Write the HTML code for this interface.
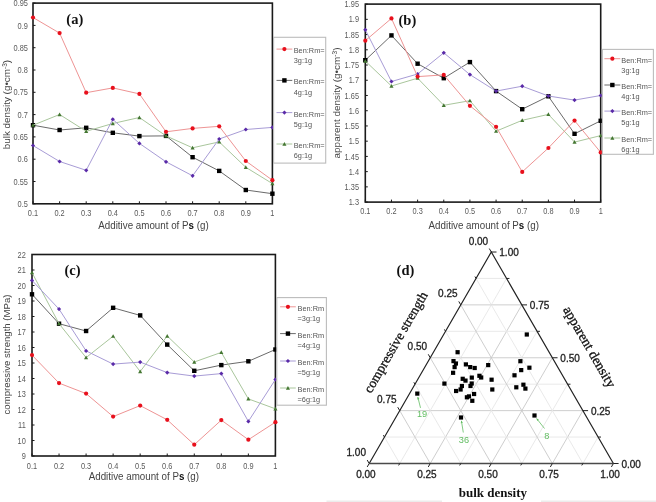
<!DOCTYPE html><html><head><meta charset="utf-8"><style>html,body{margin:0;padding:0;background:#fff;}svg{display:block;filter:blur(0.4px);}</style></head><body><svg width="656" height="502" viewBox="0 0 656 502">
<rect width="656" height="502" fill="#fff"/>
<rect x="33.00" y="3.10" width="239.40" height="200.70" fill="none" stroke="#1a1a1a" stroke-width="1.6"/>
<line x1="33.00" y1="203.80" x2="33.00" y2="201.30" stroke="#1a1a1a" stroke-width="1"/>
<line x1="59.60" y1="203.80" x2="59.60" y2="201.30" stroke="#1a1a1a" stroke-width="1"/>
<line x1="86.20" y1="203.80" x2="86.20" y2="201.30" stroke="#1a1a1a" stroke-width="1"/>
<line x1="112.80" y1="203.80" x2="112.80" y2="201.30" stroke="#1a1a1a" stroke-width="1"/>
<line x1="139.40" y1="203.80" x2="139.40" y2="201.30" stroke="#1a1a1a" stroke-width="1"/>
<line x1="166.00" y1="203.80" x2="166.00" y2="201.30" stroke="#1a1a1a" stroke-width="1"/>
<line x1="192.60" y1="203.80" x2="192.60" y2="201.30" stroke="#1a1a1a" stroke-width="1"/>
<line x1="219.20" y1="203.80" x2="219.20" y2="201.30" stroke="#1a1a1a" stroke-width="1"/>
<line x1="245.80" y1="203.80" x2="245.80" y2="201.30" stroke="#1a1a1a" stroke-width="1"/>
<line x1="272.40" y1="203.80" x2="272.40" y2="201.30" stroke="#1a1a1a" stroke-width="1"/>
<line x1="33.00" y1="3.10" x2="35.50" y2="3.10" stroke="#1a1a1a" stroke-width="1"/>
<line x1="33.00" y1="25.40" x2="35.50" y2="25.40" stroke="#1a1a1a" stroke-width="1"/>
<line x1="33.00" y1="47.70" x2="35.50" y2="47.70" stroke="#1a1a1a" stroke-width="1"/>
<line x1="33.00" y1="70.00" x2="35.50" y2="70.00" stroke="#1a1a1a" stroke-width="1"/>
<line x1="33.00" y1="92.30" x2="35.50" y2="92.30" stroke="#1a1a1a" stroke-width="1"/>
<line x1="33.00" y1="114.60" x2="35.50" y2="114.60" stroke="#1a1a1a" stroke-width="1"/>
<line x1="33.00" y1="136.90" x2="35.50" y2="136.90" stroke="#1a1a1a" stroke-width="1"/>
<line x1="33.00" y1="159.20" x2="35.50" y2="159.20" stroke="#1a1a1a" stroke-width="1"/>
<line x1="33.00" y1="181.50" x2="35.50" y2="181.50" stroke="#1a1a1a" stroke-width="1"/>
<line x1="33.00" y1="203.80" x2="35.50" y2="203.80" stroke="#1a1a1a" stroke-width="1"/>
<text transform="translate(33.00,216.00) scale(0.88,1)" font-family='"Liberation Sans", sans-serif' font-size="8.4" fill="#5a5a5a" text-anchor="middle" font-weight="normal">0.1</text>
<text transform="translate(59.60,216.00) scale(0.88,1)" font-family='"Liberation Sans", sans-serif' font-size="8.4" fill="#5a5a5a" text-anchor="middle" font-weight="normal">0.2</text>
<text transform="translate(86.20,216.00) scale(0.88,1)" font-family='"Liberation Sans", sans-serif' font-size="8.4" fill="#5a5a5a" text-anchor="middle" font-weight="normal">0.3</text>
<text transform="translate(112.80,216.00) scale(0.88,1)" font-family='"Liberation Sans", sans-serif' font-size="8.4" fill="#5a5a5a" text-anchor="middle" font-weight="normal">0.4</text>
<text transform="translate(139.40,216.00) scale(0.88,1)" font-family='"Liberation Sans", sans-serif' font-size="8.4" fill="#5a5a5a" text-anchor="middle" font-weight="normal">0.5</text>
<text transform="translate(166.00,216.00) scale(0.88,1)" font-family='"Liberation Sans", sans-serif' font-size="8.4" fill="#5a5a5a" text-anchor="middle" font-weight="normal">0.6</text>
<text transform="translate(192.60,216.00) scale(0.88,1)" font-family='"Liberation Sans", sans-serif' font-size="8.4" fill="#5a5a5a" text-anchor="middle" font-weight="normal">0.7</text>
<text transform="translate(219.20,216.00) scale(0.88,1)" font-family='"Liberation Sans", sans-serif' font-size="8.4" fill="#5a5a5a" text-anchor="middle" font-weight="normal">0.8</text>
<text transform="translate(245.80,216.00) scale(0.88,1)" font-family='"Liberation Sans", sans-serif' font-size="8.4" fill="#5a5a5a" text-anchor="middle" font-weight="normal">0.9</text>
<text transform="translate(272.40,216.00) scale(0.88,1)" font-family='"Liberation Sans", sans-serif' font-size="8.4" fill="#5a5a5a" text-anchor="middle" font-weight="normal">1</text>
<text transform="translate(27.90,6.20) scale(0.88,1)" font-family='"Liberation Sans", sans-serif' font-size="8.4" fill="#5a5a5a" text-anchor="end" font-weight="normal">0.95</text>
<text transform="translate(27.90,28.50) scale(0.88,1)" font-family='"Liberation Sans", sans-serif' font-size="8.4" fill="#5a5a5a" text-anchor="end" font-weight="normal">0.9</text>
<text transform="translate(27.90,50.80) scale(0.88,1)" font-family='"Liberation Sans", sans-serif' font-size="8.4" fill="#5a5a5a" text-anchor="end" font-weight="normal">0.85</text>
<text transform="translate(27.90,73.10) scale(0.88,1)" font-family='"Liberation Sans", sans-serif' font-size="8.4" fill="#5a5a5a" text-anchor="end" font-weight="normal">0.8</text>
<text transform="translate(27.90,95.40) scale(0.88,1)" font-family='"Liberation Sans", sans-serif' font-size="8.4" fill="#5a5a5a" text-anchor="end" font-weight="normal">0.75</text>
<text transform="translate(27.90,117.70) scale(0.88,1)" font-family='"Liberation Sans", sans-serif' font-size="8.4" fill="#5a5a5a" text-anchor="end" font-weight="normal">0.7</text>
<text transform="translate(27.90,140.00) scale(0.88,1)" font-family='"Liberation Sans", sans-serif' font-size="8.4" fill="#5a5a5a" text-anchor="end" font-weight="normal">0.65</text>
<text transform="translate(27.90,162.30) scale(0.88,1)" font-family='"Liberation Sans", sans-serif' font-size="8.4" fill="#5a5a5a" text-anchor="end" font-weight="normal">0.6</text>
<text transform="translate(27.90,184.60) scale(0.88,1)" font-family='"Liberation Sans", sans-serif' font-size="8.4" fill="#5a5a5a" text-anchor="end" font-weight="normal">0.55</text>
<text transform="translate(27.90,206.90) scale(0.88,1)" font-family='"Liberation Sans", sans-serif' font-size="8.4" fill="#5a5a5a" text-anchor="end" font-weight="normal">0.5</text>
<polyline points="33.00,125.20 59.60,130.00 86.20,127.80 112.80,132.80 139.40,136.10 166.00,135.90 192.60,157.20 219.20,170.90 245.80,190.00 272.40,193.70" fill="none" stroke="#6a6a6a" stroke-width="1"/>
<rect x="30.80" y="123.00" width="4.40" height="4.40" fill="#000000"/>
<rect x="57.40" y="127.80" width="4.40" height="4.40" fill="#000000"/>
<rect x="84.00" y="125.60" width="4.40" height="4.40" fill="#000000"/>
<rect x="110.60" y="130.60" width="4.40" height="4.40" fill="#000000"/>
<rect x="137.20" y="133.90" width="4.40" height="4.40" fill="#000000"/>
<rect x="163.80" y="133.70" width="4.40" height="4.40" fill="#000000"/>
<rect x="190.40" y="155.00" width="4.40" height="4.40" fill="#000000"/>
<rect x="217.00" y="168.70" width="4.40" height="4.40" fill="#000000"/>
<rect x="243.60" y="187.80" width="4.40" height="4.40" fill="#000000"/>
<rect x="270.20" y="191.50" width="4.40" height="4.40" fill="#000000"/>
<polyline points="33.00,125.20 59.60,114.50 86.20,131.30 112.80,123.50 139.40,117.50 166.00,135.90 192.60,147.80 219.20,141.90 245.80,167.30 272.40,183.60" fill="none" stroke="#a9c69c" stroke-width="1"/>
<path d="M33.00 123.15L35.05 126.84L30.95 126.84Z" fill="#437631"/>
<path d="M59.60 112.45L61.65 116.14L57.55 116.14Z" fill="#437631"/>
<path d="M86.20 129.25L88.25 132.94L84.15 132.94Z" fill="#437631"/>
<path d="M112.80 121.45L114.85 125.14L110.75 125.14Z" fill="#437631"/>
<path d="M139.40 115.45L141.45 119.14L137.35 119.14Z" fill="#437631"/>
<path d="M166.00 133.85L168.05 137.54L163.95 137.54Z" fill="#437631"/>
<path d="M192.60 145.75L194.65 149.44L190.55 149.44Z" fill="#437631"/>
<path d="M219.20 139.85L221.25 143.54L217.15 143.54Z" fill="#437631"/>
<path d="M245.80 165.25L247.85 168.94L243.75 168.94Z" fill="#437631"/>
<path d="M272.40 181.55L274.45 185.24L270.35 185.24Z" fill="#437631"/>
<polyline points="33.00,145.50 59.60,161.50 86.20,170.30 112.80,119.30 139.40,143.40 166.00,161.80 192.60,175.80 219.20,139.00 245.80,129.50 272.40,127.40" fill="none" stroke="#a89cd6" stroke-width="1"/>
<path d="M33.00 143.40L35.10 145.50L33.00 147.60L30.90 145.50Z" fill="#5a2aa8"/>
<path d="M59.60 159.40L61.70 161.50L59.60 163.60L57.50 161.50Z" fill="#5a2aa8"/>
<path d="M86.20 168.20L88.30 170.30L86.20 172.40L84.10 170.30Z" fill="#5a2aa8"/>
<path d="M112.80 117.20L114.90 119.30L112.80 121.40L110.70 119.30Z" fill="#5a2aa8"/>
<path d="M139.40 141.30L141.50 143.40L139.40 145.50L137.30 143.40Z" fill="#5a2aa8"/>
<path d="M166.00 159.70L168.10 161.80L166.00 163.90L163.90 161.80Z" fill="#5a2aa8"/>
<path d="M192.60 173.70L194.70 175.80L192.60 177.90L190.50 175.80Z" fill="#5a2aa8"/>
<path d="M219.20 136.90L221.30 139.00L219.20 141.10L217.10 139.00Z" fill="#5a2aa8"/>
<path d="M245.80 127.40L247.90 129.50L245.80 131.60L243.70 129.50Z" fill="#5a2aa8"/>
<path d="M272.40 125.30L274.50 127.40L272.40 129.50L270.30 127.40Z" fill="#5a2aa8"/>
<polyline points="33.00,17.50 59.60,33.10 86.20,92.70 112.80,87.90 139.40,93.90 166.00,131.80 192.60,128.40 219.20,126.30 245.80,161.00 272.40,180.20" fill="none" stroke="#ee9494" stroke-width="1"/>
<circle cx="33.00" cy="17.50" r="2.10" fill="#e8101c"/>
<circle cx="59.60" cy="33.10" r="2.10" fill="#e8101c"/>
<circle cx="86.20" cy="92.70" r="2.10" fill="#e8101c"/>
<circle cx="112.80" cy="87.90" r="2.10" fill="#e8101c"/>
<circle cx="139.40" cy="93.90" r="2.10" fill="#e8101c"/>
<circle cx="166.00" cy="131.80" r="2.10" fill="#e8101c"/>
<circle cx="192.60" cy="128.40" r="2.10" fill="#e8101c"/>
<circle cx="219.20" cy="126.30" r="2.10" fill="#e8101c"/>
<circle cx="245.80" cy="161.00" r="2.10" fill="#e8101c"/>
<circle cx="272.40" cy="180.20" r="2.10" fill="#e8101c"/>
<text transform="translate(66.30,24.20) scale(1.0,1)" font-family='"Liberation Serif", serif' font-size="14.5" fill="#111" text-anchor="start" font-weight="bold">(a)</text>
<rect x="273.60" y="37.30" width="52.10" height="125.80" fill="#fff" stroke="#bcbcbc" stroke-width="1.1"/>
<line x1="276.50" y1="49.10" x2="292.30" y2="49.10" stroke="#ee9494" stroke-width="1"/>
<circle cx="284.40" cy="49.10" r="2.10" fill="#e8101c"/>
<text transform="translate(293.70,53.00) scale(0.97,1)" font-family='"Liberation Sans", sans-serif' font-size="7.6" fill="#555" text-anchor="start" font-weight="normal">Ben:Rm=</text>
<text transform="translate(293.70,63.40) scale(0.97,1)" font-family='"Liberation Sans", sans-serif' font-size="7.6" fill="#555" text-anchor="start" font-weight="normal">3g:1g</text>
<line x1="276.50" y1="80.40" x2="292.30" y2="80.40" stroke="#6a6a6a" stroke-width="1"/>
<rect x="282.20" y="78.20" width="4.40" height="4.40" fill="#000000"/>
<text transform="translate(293.70,84.30) scale(0.97,1)" font-family='"Liberation Sans", sans-serif' font-size="7.6" fill="#555" text-anchor="start" font-weight="normal">Ben:Rm=</text>
<text transform="translate(293.70,94.70) scale(0.97,1)" font-family='"Liberation Sans", sans-serif' font-size="7.6" fill="#555" text-anchor="start" font-weight="normal">4g:1g</text>
<line x1="276.50" y1="112.60" x2="292.30" y2="112.60" stroke="#a89cd6" stroke-width="1"/>
<path d="M284.40 110.50L286.50 112.60L284.40 114.70L282.30 112.60Z" fill="#5a2aa8"/>
<text transform="translate(293.70,116.50) scale(0.97,1)" font-family='"Liberation Sans", sans-serif' font-size="7.6" fill="#555" text-anchor="start" font-weight="normal">Ben:Rm=</text>
<text transform="translate(293.70,126.90) scale(0.97,1)" font-family='"Liberation Sans", sans-serif' font-size="7.6" fill="#555" text-anchor="start" font-weight="normal">5g:1g</text>
<line x1="276.50" y1="144.00" x2="292.30" y2="144.00" stroke="#a9c69c" stroke-width="1"/>
<path d="M284.40 141.95L286.45 145.64L282.35 145.64Z" fill="#437631"/>
<text transform="translate(293.70,147.90) scale(0.97,1)" font-family='"Liberation Sans", sans-serif' font-size="7.6" fill="#555" text-anchor="start" font-weight="normal">Ben:Rm=</text>
<text transform="translate(293.70,158.30) scale(0.97,1)" font-family='"Liberation Sans", sans-serif' font-size="7.6" fill="#555" text-anchor="start" font-weight="normal">6g:1g</text>
<text transform="translate(98.30,228.70) scale(0.96,1)" font-family='"Liberation Sans", sans-serif' font-size="10.2" fill="#444" text-anchor="start" font-weight="normal">Additive amount of P<tspan font-weight="bold" fill="#111">s</tspan> (g)</text>
<text transform="translate(10.2,104.6) rotate(-90)" font-family='"Liberation Sans", sans-serif' font-size="9.9" fill="#444" text-anchor="middle">bulk density (g•cm<tspan font-size="6.5" dy="-3.5">-3</tspan><tspan dy="3.5">)</tspan></text>
<rect x="365.30" y="4.10" width="235.40" height="198.00" fill="none" stroke="#1a1a1a" stroke-width="1.6"/>
<line x1="365.30" y1="202.10" x2="365.30" y2="199.60" stroke="#1a1a1a" stroke-width="1"/>
<line x1="391.46" y1="202.10" x2="391.46" y2="199.60" stroke="#1a1a1a" stroke-width="1"/>
<line x1="417.61" y1="202.10" x2="417.61" y2="199.60" stroke="#1a1a1a" stroke-width="1"/>
<line x1="443.77" y1="202.10" x2="443.77" y2="199.60" stroke="#1a1a1a" stroke-width="1"/>
<line x1="469.92" y1="202.10" x2="469.92" y2="199.60" stroke="#1a1a1a" stroke-width="1"/>
<line x1="496.08" y1="202.10" x2="496.08" y2="199.60" stroke="#1a1a1a" stroke-width="1"/>
<line x1="522.23" y1="202.10" x2="522.23" y2="199.60" stroke="#1a1a1a" stroke-width="1"/>
<line x1="548.39" y1="202.10" x2="548.39" y2="199.60" stroke="#1a1a1a" stroke-width="1"/>
<line x1="574.54" y1="202.10" x2="574.54" y2="199.60" stroke="#1a1a1a" stroke-width="1"/>
<line x1="600.70" y1="202.10" x2="600.70" y2="199.60" stroke="#1a1a1a" stroke-width="1"/>
<line x1="365.30" y1="4.10" x2="367.80" y2="4.10" stroke="#1a1a1a" stroke-width="1"/>
<line x1="365.30" y1="19.33" x2="367.80" y2="19.33" stroke="#1a1a1a" stroke-width="1"/>
<line x1="365.30" y1="34.56" x2="367.80" y2="34.56" stroke="#1a1a1a" stroke-width="1"/>
<line x1="365.30" y1="49.79" x2="367.80" y2="49.79" stroke="#1a1a1a" stroke-width="1"/>
<line x1="365.30" y1="65.02" x2="367.80" y2="65.02" stroke="#1a1a1a" stroke-width="1"/>
<line x1="365.30" y1="80.25" x2="367.80" y2="80.25" stroke="#1a1a1a" stroke-width="1"/>
<line x1="365.30" y1="95.48" x2="367.80" y2="95.48" stroke="#1a1a1a" stroke-width="1"/>
<line x1="365.30" y1="110.72" x2="367.80" y2="110.72" stroke="#1a1a1a" stroke-width="1"/>
<line x1="365.30" y1="125.95" x2="367.80" y2="125.95" stroke="#1a1a1a" stroke-width="1"/>
<line x1="365.30" y1="141.18" x2="367.80" y2="141.18" stroke="#1a1a1a" stroke-width="1"/>
<line x1="365.30" y1="156.41" x2="367.80" y2="156.41" stroke="#1a1a1a" stroke-width="1"/>
<line x1="365.30" y1="171.64" x2="367.80" y2="171.64" stroke="#1a1a1a" stroke-width="1"/>
<line x1="365.30" y1="186.87" x2="367.80" y2="186.87" stroke="#1a1a1a" stroke-width="1"/>
<line x1="365.30" y1="202.10" x2="367.80" y2="202.10" stroke="#1a1a1a" stroke-width="1"/>
<text transform="translate(365.30,214.20) scale(0.88,1)" font-family='"Liberation Sans", sans-serif' font-size="8.4" fill="#5a5a5a" text-anchor="middle" font-weight="normal">0.1</text>
<text transform="translate(391.46,214.20) scale(0.88,1)" font-family='"Liberation Sans", sans-serif' font-size="8.4" fill="#5a5a5a" text-anchor="middle" font-weight="normal">0.2</text>
<text transform="translate(417.61,214.20) scale(0.88,1)" font-family='"Liberation Sans", sans-serif' font-size="8.4" fill="#5a5a5a" text-anchor="middle" font-weight="normal">0.3</text>
<text transform="translate(443.77,214.20) scale(0.88,1)" font-family='"Liberation Sans", sans-serif' font-size="8.4" fill="#5a5a5a" text-anchor="middle" font-weight="normal">0.4</text>
<text transform="translate(469.92,214.20) scale(0.88,1)" font-family='"Liberation Sans", sans-serif' font-size="8.4" fill="#5a5a5a" text-anchor="middle" font-weight="normal">0.5</text>
<text transform="translate(496.08,214.20) scale(0.88,1)" font-family='"Liberation Sans", sans-serif' font-size="8.4" fill="#5a5a5a" text-anchor="middle" font-weight="normal">0.6</text>
<text transform="translate(522.23,214.20) scale(0.88,1)" font-family='"Liberation Sans", sans-serif' font-size="8.4" fill="#5a5a5a" text-anchor="middle" font-weight="normal">0.7</text>
<text transform="translate(548.39,214.20) scale(0.88,1)" font-family='"Liberation Sans", sans-serif' font-size="8.4" fill="#5a5a5a" text-anchor="middle" font-weight="normal">0.8</text>
<text transform="translate(574.54,214.20) scale(0.88,1)" font-family='"Liberation Sans", sans-serif' font-size="8.4" fill="#5a5a5a" text-anchor="middle" font-weight="normal">0.9</text>
<text transform="translate(600.70,214.20) scale(0.88,1)" font-family='"Liberation Sans", sans-serif' font-size="8.4" fill="#5a5a5a" text-anchor="middle" font-weight="normal">1</text>
<text transform="translate(359.00,7.20) scale(0.88,1)" font-family='"Liberation Sans", sans-serif' font-size="8.4" fill="#5a5a5a" text-anchor="end" font-weight="normal">1.95</text>
<text transform="translate(359.00,22.43) scale(0.88,1)" font-family='"Liberation Sans", sans-serif' font-size="8.4" fill="#5a5a5a" text-anchor="end" font-weight="normal">1.9</text>
<text transform="translate(359.00,37.66) scale(0.88,1)" font-family='"Liberation Sans", sans-serif' font-size="8.4" fill="#5a5a5a" text-anchor="end" font-weight="normal">1.85</text>
<text transform="translate(359.00,52.89) scale(0.88,1)" font-family='"Liberation Sans", sans-serif' font-size="8.4" fill="#5a5a5a" text-anchor="end" font-weight="normal">1.8</text>
<text transform="translate(359.00,68.12) scale(0.88,1)" font-family='"Liberation Sans", sans-serif' font-size="8.4" fill="#5a5a5a" text-anchor="end" font-weight="normal">1.75</text>
<text transform="translate(359.00,83.35) scale(0.88,1)" font-family='"Liberation Sans", sans-serif' font-size="8.4" fill="#5a5a5a" text-anchor="end" font-weight="normal">1.7</text>
<text transform="translate(359.00,98.58) scale(0.88,1)" font-family='"Liberation Sans", sans-serif' font-size="8.4" fill="#5a5a5a" text-anchor="end" font-weight="normal">1.65</text>
<text transform="translate(359.00,113.82) scale(0.88,1)" font-family='"Liberation Sans", sans-serif' font-size="8.4" fill="#5a5a5a" text-anchor="end" font-weight="normal">1.6</text>
<text transform="translate(359.00,129.05) scale(0.88,1)" font-family='"Liberation Sans", sans-serif' font-size="8.4" fill="#5a5a5a" text-anchor="end" font-weight="normal">1.55</text>
<text transform="translate(359.00,144.28) scale(0.88,1)" font-family='"Liberation Sans", sans-serif' font-size="8.4" fill="#5a5a5a" text-anchor="end" font-weight="normal">1.5</text>
<text transform="translate(359.00,159.51) scale(0.88,1)" font-family='"Liberation Sans", sans-serif' font-size="8.4" fill="#5a5a5a" text-anchor="end" font-weight="normal">1.45</text>
<text transform="translate(359.00,174.74) scale(0.88,1)" font-family='"Liberation Sans", sans-serif' font-size="8.4" fill="#5a5a5a" text-anchor="end" font-weight="normal">1.4</text>
<text transform="translate(359.00,189.97) scale(0.88,1)" font-family='"Liberation Sans", sans-serif' font-size="8.4" fill="#5a5a5a" text-anchor="end" font-weight="normal">1.35</text>
<text transform="translate(359.00,205.20) scale(0.88,1)" font-family='"Liberation Sans", sans-serif' font-size="8.4" fill="#5a5a5a" text-anchor="end" font-weight="normal">1.3</text>
<polyline points="365.30,60.20 391.46,35.40 417.61,63.70 443.77,78.20 469.92,62.10 496.08,91.10 522.23,109.20 548.39,96.30 574.54,133.80 600.70,120.80" fill="none" stroke="#6a6a6a" stroke-width="1"/>
<rect x="363.10" y="58.00" width="4.40" height="4.40" fill="#000000"/>
<rect x="389.26" y="33.20" width="4.40" height="4.40" fill="#000000"/>
<rect x="415.41" y="61.50" width="4.40" height="4.40" fill="#000000"/>
<rect x="441.57" y="76.00" width="4.40" height="4.40" fill="#000000"/>
<rect x="467.72" y="59.90" width="4.40" height="4.40" fill="#000000"/>
<rect x="493.88" y="88.90" width="4.40" height="4.40" fill="#000000"/>
<rect x="520.03" y="107.00" width="4.40" height="4.40" fill="#000000"/>
<rect x="546.19" y="94.10" width="4.40" height="4.40" fill="#000000"/>
<rect x="572.34" y="131.60" width="4.40" height="4.40" fill="#000000"/>
<rect x="598.50" y="118.60" width="4.40" height="4.40" fill="#000000"/>
<polyline points="365.30,61.00 391.46,86.00 417.61,78.20 443.77,105.30 469.92,100.70 496.08,131.20 522.23,120.30 548.39,114.40 574.54,142.10 600.70,135.60" fill="none" stroke="#a9c69c" stroke-width="1"/>
<path d="M365.30 58.95L367.35 62.64L363.25 62.64Z" fill="#437631"/>
<path d="M391.46 83.95L393.51 87.64L389.41 87.64Z" fill="#437631"/>
<path d="M417.61 76.15L419.66 79.84L415.56 79.84Z" fill="#437631"/>
<path d="M443.77 103.25L445.82 106.94L441.72 106.94Z" fill="#437631"/>
<path d="M469.92 98.65L471.97 102.34L467.87 102.34Z" fill="#437631"/>
<path d="M496.08 129.15L498.13 132.84L494.03 132.84Z" fill="#437631"/>
<path d="M522.23 118.25L524.28 121.94L520.18 121.94Z" fill="#437631"/>
<path d="M548.39 112.35L550.44 116.04L546.34 116.04Z" fill="#437631"/>
<path d="M574.54 140.05L576.59 143.74L572.49 143.74Z" fill="#437631"/>
<path d="M600.70 133.55L602.75 137.24L598.65 137.24Z" fill="#437631"/>
<polyline points="365.30,29.80 391.46,81.50 417.61,74.00 443.77,52.80 469.92,74.60 496.08,91.10 522.23,86.20 548.39,96.00 574.54,100.10 600.70,95.50" fill="none" stroke="#a89cd6" stroke-width="1"/>
<path d="M365.30 27.70L367.40 29.80L365.30 31.90L363.20 29.80Z" fill="#5a2aa8"/>
<path d="M391.46 79.40L393.56 81.50L391.46 83.60L389.36 81.50Z" fill="#5a2aa8"/>
<path d="M417.61 71.90L419.71 74.00L417.61 76.10L415.51 74.00Z" fill="#5a2aa8"/>
<path d="M443.77 50.70L445.87 52.80L443.77 54.90L441.67 52.80Z" fill="#5a2aa8"/>
<path d="M469.92 72.50L472.02 74.60L469.92 76.70L467.82 74.60Z" fill="#5a2aa8"/>
<path d="M496.08 89.00L498.18 91.10L496.08 93.20L493.98 91.10Z" fill="#5a2aa8"/>
<path d="M522.23 84.10L524.33 86.20L522.23 88.30L520.13 86.20Z" fill="#5a2aa8"/>
<path d="M548.39 93.90L550.49 96.00L548.39 98.10L546.29 96.00Z" fill="#5a2aa8"/>
<path d="M574.54 98.00L576.64 100.10L574.54 102.20L572.44 100.10Z" fill="#5a2aa8"/>
<path d="M600.70 93.40L602.80 95.50L600.70 97.60L598.60 95.50Z" fill="#5a2aa8"/>
<polyline points="365.30,40.70 391.46,18.40 417.61,76.60 443.77,74.90 469.92,105.80 496.08,126.80 522.23,171.90 548.39,148.00 574.54,120.60 600.70,152.40" fill="none" stroke="#ee9494" stroke-width="1"/>
<circle cx="365.30" cy="40.70" r="2.10" fill="#e8101c"/>
<circle cx="391.46" cy="18.40" r="2.10" fill="#e8101c"/>
<circle cx="417.61" cy="76.60" r="2.10" fill="#e8101c"/>
<circle cx="443.77" cy="74.90" r="2.10" fill="#e8101c"/>
<circle cx="469.92" cy="105.80" r="2.10" fill="#e8101c"/>
<circle cx="496.08" cy="126.80" r="2.10" fill="#e8101c"/>
<circle cx="522.23" cy="171.90" r="2.10" fill="#e8101c"/>
<circle cx="548.39" cy="148.00" r="2.10" fill="#e8101c"/>
<circle cx="574.54" cy="120.60" r="2.10" fill="#e8101c"/>
<circle cx="600.70" cy="152.40" r="2.10" fill="#e8101c"/>
<text transform="translate(398.50,24.70) scale(1.0,1)" font-family='"Liberation Serif", serif' font-size="14.5" fill="#111" text-anchor="start" font-weight="bold">(b)</text>
<rect x="602.40" y="49.40" width="51.00" height="104.90" fill="#fff" stroke="#bcbcbc" stroke-width="1.1"/>
<line x1="604.40" y1="58.70" x2="620.30" y2="58.70" stroke="#ee9494" stroke-width="1"/>
<circle cx="612.35" cy="58.70" r="2.10" fill="#e8101c"/>
<text transform="translate(621.30,62.60) scale(0.97,1)" font-family='"Liberation Sans", sans-serif' font-size="7.6" fill="#555" text-anchor="start" font-weight="normal">Ben:Rm=</text>
<text transform="translate(621.30,73.00) scale(0.97,1)" font-family='"Liberation Sans", sans-serif' font-size="7.6" fill="#555" text-anchor="start" font-weight="normal">3g:1g</text>
<line x1="604.40" y1="85.00" x2="620.30" y2="85.00" stroke="#6a6a6a" stroke-width="1"/>
<rect x="610.15" y="82.80" width="4.40" height="4.40" fill="#000000"/>
<text transform="translate(621.30,88.90) scale(0.97,1)" font-family='"Liberation Sans", sans-serif' font-size="7.6" fill="#555" text-anchor="start" font-weight="normal">Ben:Rm=</text>
<text transform="translate(621.30,99.30) scale(0.97,1)" font-family='"Liberation Sans", sans-serif' font-size="7.6" fill="#555" text-anchor="start" font-weight="normal">4g:1g</text>
<line x1="604.40" y1="111.10" x2="620.30" y2="111.10" stroke="#a89cd6" stroke-width="1"/>
<path d="M612.35 109.00L614.45 111.10L612.35 113.20L610.25 111.10Z" fill="#5a2aa8"/>
<text transform="translate(621.30,115.00) scale(0.97,1)" font-family='"Liberation Sans", sans-serif' font-size="7.6" fill="#555" text-anchor="start" font-weight="normal">Ben:Rm=</text>
<text transform="translate(621.30,125.40) scale(0.97,1)" font-family='"Liberation Sans", sans-serif' font-size="7.6" fill="#555" text-anchor="start" font-weight="normal">5g:1g</text>
<line x1="604.40" y1="138.00" x2="620.30" y2="138.00" stroke="#a9c69c" stroke-width="1"/>
<path d="M612.35 135.95L614.40 139.64L610.30 139.64Z" fill="#437631"/>
<text transform="translate(621.30,141.90) scale(0.97,1)" font-family='"Liberation Sans", sans-serif' font-size="7.6" fill="#555" text-anchor="start" font-weight="normal">Ben:Rm=</text>
<text transform="translate(621.30,152.30) scale(0.97,1)" font-family='"Liberation Sans", sans-serif' font-size="7.6" fill="#555" text-anchor="start" font-weight="normal">6g:1g</text>
<text transform="translate(428.60,229.00) scale(0.96,1)" font-family='"Liberation Sans", sans-serif' font-size="10.2" fill="#444" text-anchor="start" font-weight="normal">Additive amount of P<tspan font-weight="bold" fill="#111">s</tspan> (g)</text>
<text transform="translate(340,103) rotate(-90)" font-family='"Liberation Sans", sans-serif' font-size="9.95" fill="#444" text-anchor="middle">apparent density (g•cm<tspan font-size="6.5" dy="-3.5">-3</tspan><tspan dy="3.5">)</tspan></text>
<rect x="32.00" y="254.50" width="243.40" height="201.50" fill="none" stroke="#1a1a1a" stroke-width="1.6"/>
<line x1="32.00" y1="456.00" x2="32.00" y2="453.50" stroke="#1a1a1a" stroke-width="1"/>
<line x1="59.04" y1="456.00" x2="59.04" y2="453.50" stroke="#1a1a1a" stroke-width="1"/>
<line x1="86.09" y1="456.00" x2="86.09" y2="453.50" stroke="#1a1a1a" stroke-width="1"/>
<line x1="113.13" y1="456.00" x2="113.13" y2="453.50" stroke="#1a1a1a" stroke-width="1"/>
<line x1="140.18" y1="456.00" x2="140.18" y2="453.50" stroke="#1a1a1a" stroke-width="1"/>
<line x1="167.22" y1="456.00" x2="167.22" y2="453.50" stroke="#1a1a1a" stroke-width="1"/>
<line x1="194.27" y1="456.00" x2="194.27" y2="453.50" stroke="#1a1a1a" stroke-width="1"/>
<line x1="221.31" y1="456.00" x2="221.31" y2="453.50" stroke="#1a1a1a" stroke-width="1"/>
<line x1="248.36" y1="456.00" x2="248.36" y2="453.50" stroke="#1a1a1a" stroke-width="1"/>
<line x1="275.40" y1="456.00" x2="275.40" y2="453.50" stroke="#1a1a1a" stroke-width="1"/>
<line x1="32.00" y1="254.50" x2="34.50" y2="254.50" stroke="#1a1a1a" stroke-width="1"/>
<line x1="32.00" y1="270.00" x2="34.50" y2="270.00" stroke="#1a1a1a" stroke-width="1"/>
<line x1="32.00" y1="285.50" x2="34.50" y2="285.50" stroke="#1a1a1a" stroke-width="1"/>
<line x1="32.00" y1="301.00" x2="34.50" y2="301.00" stroke="#1a1a1a" stroke-width="1"/>
<line x1="32.00" y1="316.50" x2="34.50" y2="316.50" stroke="#1a1a1a" stroke-width="1"/>
<line x1="32.00" y1="332.00" x2="34.50" y2="332.00" stroke="#1a1a1a" stroke-width="1"/>
<line x1="32.00" y1="347.50" x2="34.50" y2="347.50" stroke="#1a1a1a" stroke-width="1"/>
<line x1="32.00" y1="363.00" x2="34.50" y2="363.00" stroke="#1a1a1a" stroke-width="1"/>
<line x1="32.00" y1="378.50" x2="34.50" y2="378.50" stroke="#1a1a1a" stroke-width="1"/>
<line x1="32.00" y1="394.00" x2="34.50" y2="394.00" stroke="#1a1a1a" stroke-width="1"/>
<line x1="32.00" y1="409.50" x2="34.50" y2="409.50" stroke="#1a1a1a" stroke-width="1"/>
<line x1="32.00" y1="425.00" x2="34.50" y2="425.00" stroke="#1a1a1a" stroke-width="1"/>
<line x1="32.00" y1="440.50" x2="34.50" y2="440.50" stroke="#1a1a1a" stroke-width="1"/>
<line x1="32.00" y1="456.00" x2="34.50" y2="456.00" stroke="#1a1a1a" stroke-width="1"/>
<text transform="translate(32.00,469.20) scale(0.88,1)" font-family='"Liberation Sans", sans-serif' font-size="8.4" fill="#5a5a5a" text-anchor="middle" font-weight="normal">0.1</text>
<text transform="translate(59.04,469.20) scale(0.88,1)" font-family='"Liberation Sans", sans-serif' font-size="8.4" fill="#5a5a5a" text-anchor="middle" font-weight="normal">0.2</text>
<text transform="translate(86.09,469.20) scale(0.88,1)" font-family='"Liberation Sans", sans-serif' font-size="8.4" fill="#5a5a5a" text-anchor="middle" font-weight="normal">0.3</text>
<text transform="translate(113.13,469.20) scale(0.88,1)" font-family='"Liberation Sans", sans-serif' font-size="8.4" fill="#5a5a5a" text-anchor="middle" font-weight="normal">0.4</text>
<text transform="translate(140.18,469.20) scale(0.88,1)" font-family='"Liberation Sans", sans-serif' font-size="8.4" fill="#5a5a5a" text-anchor="middle" font-weight="normal">0.5</text>
<text transform="translate(167.22,469.20) scale(0.88,1)" font-family='"Liberation Sans", sans-serif' font-size="8.4" fill="#5a5a5a" text-anchor="middle" font-weight="normal">0.6</text>
<text transform="translate(194.27,469.20) scale(0.88,1)" font-family='"Liberation Sans", sans-serif' font-size="8.4" fill="#5a5a5a" text-anchor="middle" font-weight="normal">0.7</text>
<text transform="translate(221.31,469.20) scale(0.88,1)" font-family='"Liberation Sans", sans-serif' font-size="8.4" fill="#5a5a5a" text-anchor="middle" font-weight="normal">0.8</text>
<text transform="translate(248.36,469.20) scale(0.88,1)" font-family='"Liberation Sans", sans-serif' font-size="8.4" fill="#5a5a5a" text-anchor="middle" font-weight="normal">0.9</text>
<text transform="translate(275.40,469.20) scale(0.88,1)" font-family='"Liberation Sans", sans-serif' font-size="8.4" fill="#5a5a5a" text-anchor="middle" font-weight="normal">1</text>
<text transform="translate(25.80,257.60) scale(0.88,1)" font-family='"Liberation Sans", sans-serif' font-size="8.4" fill="#5a5a5a" text-anchor="end" font-weight="normal">22</text>
<text transform="translate(25.80,273.10) scale(0.88,1)" font-family='"Liberation Sans", sans-serif' font-size="8.4" fill="#5a5a5a" text-anchor="end" font-weight="normal">21</text>
<text transform="translate(25.80,288.60) scale(0.88,1)" font-family='"Liberation Sans", sans-serif' font-size="8.4" fill="#5a5a5a" text-anchor="end" font-weight="normal">20</text>
<text transform="translate(25.80,304.10) scale(0.88,1)" font-family='"Liberation Sans", sans-serif' font-size="8.4" fill="#5a5a5a" text-anchor="end" font-weight="normal">19</text>
<text transform="translate(25.80,319.60) scale(0.88,1)" font-family='"Liberation Sans", sans-serif' font-size="8.4" fill="#5a5a5a" text-anchor="end" font-weight="normal">18</text>
<text transform="translate(25.80,335.10) scale(0.88,1)" font-family='"Liberation Sans", sans-serif' font-size="8.4" fill="#5a5a5a" text-anchor="end" font-weight="normal">17</text>
<text transform="translate(25.80,350.60) scale(0.88,1)" font-family='"Liberation Sans", sans-serif' font-size="8.4" fill="#5a5a5a" text-anchor="end" font-weight="normal">16</text>
<text transform="translate(25.80,366.10) scale(0.88,1)" font-family='"Liberation Sans", sans-serif' font-size="8.4" fill="#5a5a5a" text-anchor="end" font-weight="normal">15</text>
<text transform="translate(25.80,381.60) scale(0.88,1)" font-family='"Liberation Sans", sans-serif' font-size="8.4" fill="#5a5a5a" text-anchor="end" font-weight="normal">14</text>
<text transform="translate(25.80,397.10) scale(0.88,1)" font-family='"Liberation Sans", sans-serif' font-size="8.4" fill="#5a5a5a" text-anchor="end" font-weight="normal">13</text>
<text transform="translate(25.80,412.60) scale(0.88,1)" font-family='"Liberation Sans", sans-serif' font-size="8.4" fill="#5a5a5a" text-anchor="end" font-weight="normal">12</text>
<text transform="translate(25.80,428.10) scale(0.88,1)" font-family='"Liberation Sans", sans-serif' font-size="8.4" fill="#5a5a5a" text-anchor="end" font-weight="normal">11</text>
<text transform="translate(25.80,443.60) scale(0.88,1)" font-family='"Liberation Sans", sans-serif' font-size="8.4" fill="#5a5a5a" text-anchor="end" font-weight="normal">10</text>
<text transform="translate(25.80,459.10) scale(0.88,1)" font-family='"Liberation Sans", sans-serif' font-size="8.4" fill="#5a5a5a" text-anchor="end" font-weight="normal">9</text>
<polyline points="32.00,294.30 59.04,323.70 86.09,331.00 113.13,307.80 140.18,315.40 167.22,344.60 194.27,370.80 221.31,365.10 248.36,361.30 275.40,349.50" fill="none" stroke="#6a6a6a" stroke-width="1"/>
<rect x="29.80" y="292.10" width="4.40" height="4.40" fill="#000000"/>
<rect x="56.84" y="321.50" width="4.40" height="4.40" fill="#000000"/>
<rect x="83.89" y="328.80" width="4.40" height="4.40" fill="#000000"/>
<rect x="110.93" y="305.60" width="4.40" height="4.40" fill="#000000"/>
<rect x="137.98" y="313.20" width="4.40" height="4.40" fill="#000000"/>
<rect x="165.02" y="342.40" width="4.40" height="4.40" fill="#000000"/>
<rect x="192.07" y="368.60" width="4.40" height="4.40" fill="#000000"/>
<rect x="219.11" y="362.90" width="4.40" height="4.40" fill="#000000"/>
<rect x="246.16" y="359.10" width="4.40" height="4.40" fill="#000000"/>
<rect x="273.20" y="347.30" width="4.40" height="4.40" fill="#000000"/>
<polyline points="32.00,272.60 59.04,323.70 86.09,357.60 113.13,336.20 140.18,371.50 167.22,336.00 194.27,362.00 221.31,352.40 248.36,398.90 275.40,408.80" fill="none" stroke="#a9c69c" stroke-width="1"/>
<path d="M32.00 270.55L34.05 274.24L29.95 274.24Z" fill="#437631"/>
<path d="M59.04 321.65L61.09 325.34L56.99 325.34Z" fill="#437631"/>
<path d="M86.09 355.55L88.14 359.24L84.04 359.24Z" fill="#437631"/>
<path d="M113.13 334.15L115.18 337.84L111.08 337.84Z" fill="#437631"/>
<path d="M140.18 369.45L142.23 373.14L138.13 373.14Z" fill="#437631"/>
<path d="M167.22 333.95L169.27 337.64L165.17 337.64Z" fill="#437631"/>
<path d="M194.27 359.95L196.32 363.64L192.22 363.64Z" fill="#437631"/>
<path d="M221.31 350.35L223.36 354.04L219.26 354.04Z" fill="#437631"/>
<path d="M248.36 396.85L250.41 400.54L246.31 400.54Z" fill="#437631"/>
<path d="M275.40 406.75L277.45 410.44L273.35 410.44Z" fill="#437631"/>
<polyline points="32.00,280.40 59.04,309.10 86.09,350.90 113.13,364.10 140.18,362.10 167.22,372.60 194.27,376.10 221.31,373.60 248.36,421.40 275.40,379.50" fill="none" stroke="#a89cd6" stroke-width="1"/>
<path d="M32.00 278.30L34.10 280.40L32.00 282.50L29.90 280.40Z" fill="#5a2aa8"/>
<path d="M59.04 307.00L61.14 309.10L59.04 311.20L56.94 309.10Z" fill="#5a2aa8"/>
<path d="M86.09 348.80L88.19 350.90L86.09 353.00L83.99 350.90Z" fill="#5a2aa8"/>
<path d="M113.13 362.00L115.23 364.10L113.13 366.20L111.03 364.10Z" fill="#5a2aa8"/>
<path d="M140.18 360.00L142.28 362.10L140.18 364.20L138.08 362.10Z" fill="#5a2aa8"/>
<path d="M167.22 370.50L169.32 372.60L167.22 374.70L165.12 372.60Z" fill="#5a2aa8"/>
<path d="M194.27 374.00L196.37 376.10L194.27 378.20L192.17 376.10Z" fill="#5a2aa8"/>
<path d="M221.31 371.50L223.41 373.60L221.31 375.70L219.21 373.60Z" fill="#5a2aa8"/>
<path d="M248.36 419.30L250.46 421.40L248.36 423.50L246.26 421.40Z" fill="#5a2aa8"/>
<path d="M275.40 377.40L277.50 379.50L275.40 381.60L273.30 379.50Z" fill="#5a2aa8"/>
<polyline points="32.00,355.10 59.04,383.10 86.09,393.60 113.13,416.60 140.18,405.60 167.22,419.80 194.27,444.70 221.31,420.10 248.36,439.70 275.40,422.20" fill="none" stroke="#ee9494" stroke-width="1"/>
<circle cx="32.00" cy="355.10" r="2.10" fill="#e8101c"/>
<circle cx="59.04" cy="383.10" r="2.10" fill="#e8101c"/>
<circle cx="86.09" cy="393.60" r="2.10" fill="#e8101c"/>
<circle cx="113.13" cy="416.60" r="2.10" fill="#e8101c"/>
<circle cx="140.18" cy="405.60" r="2.10" fill="#e8101c"/>
<circle cx="167.22" cy="419.80" r="2.10" fill="#e8101c"/>
<circle cx="194.27" cy="444.70" r="2.10" fill="#e8101c"/>
<circle cx="221.31" cy="420.10" r="2.10" fill="#e8101c"/>
<circle cx="248.36" cy="439.70" r="2.10" fill="#e8101c"/>
<circle cx="275.40" cy="422.20" r="2.10" fill="#e8101c"/>
<text transform="translate(64.40,274.50) scale(1.0,1)" font-family='"Liberation Serif", serif' font-size="14.5" fill="#111" text-anchor="start" font-weight="bold">(c)</text>
<rect x="276.80" y="297.60" width="49.60" height="107.60" fill="#fff" stroke="#bcbcbc" stroke-width="1.1"/>
<line x1="280.10" y1="306.80" x2="295.80" y2="306.80" stroke="#ee9494" stroke-width="1"/>
<circle cx="287.95" cy="306.80" r="2.10" fill="#e8101c"/>
<text transform="translate(297.50,310.70) scale(0.97,1)" font-family='"Liberation Sans", sans-serif' font-size="7.6" fill="#555" text-anchor="start" font-weight="normal">Ben:Rm</text>
<text transform="translate(297.50,321.10) scale(0.97,1)" font-family='"Liberation Sans", sans-serif' font-size="7.6" fill="#555" text-anchor="start" font-weight="normal">=3g:1g</text>
<line x1="280.10" y1="333.60" x2="295.80" y2="333.60" stroke="#6a6a6a" stroke-width="1"/>
<rect x="285.75" y="331.40" width="4.40" height="4.40" fill="#000000"/>
<text transform="translate(297.50,337.50) scale(0.97,1)" font-family='"Liberation Sans", sans-serif' font-size="7.6" fill="#555" text-anchor="start" font-weight="normal">Ben:Rm</text>
<text transform="translate(297.50,347.90) scale(0.97,1)" font-family='"Liberation Sans", sans-serif' font-size="7.6" fill="#555" text-anchor="start" font-weight="normal">=4g:1g</text>
<line x1="280.10" y1="361.00" x2="295.80" y2="361.00" stroke="#a89cd6" stroke-width="1"/>
<path d="M287.95 358.90L290.05 361.00L287.95 363.10L285.85 361.00Z" fill="#5a2aa8"/>
<text transform="translate(297.50,364.90) scale(0.97,1)" font-family='"Liberation Sans", sans-serif' font-size="7.6" fill="#555" text-anchor="start" font-weight="normal">Ben:Rm</text>
<text transform="translate(297.50,375.30) scale(0.97,1)" font-family='"Liberation Sans", sans-serif' font-size="7.6" fill="#555" text-anchor="start" font-weight="normal">=5g:1g</text>
<line x1="280.10" y1="388.00" x2="295.80" y2="388.00" stroke="#a9c69c" stroke-width="1"/>
<path d="M287.95 385.95L290.00 389.64L285.90 389.64Z" fill="#437631"/>
<text transform="translate(297.50,391.90) scale(0.97,1)" font-family='"Liberation Sans", sans-serif' font-size="7.6" fill="#555" text-anchor="start" font-weight="normal">Ben:Rm</text>
<text transform="translate(297.50,402.30) scale(0.97,1)" font-family='"Liberation Sans", sans-serif' font-size="7.6" fill="#555" text-anchor="start" font-weight="normal">=6g:1g</text>
<text transform="translate(88.70,480.30) scale(0.96,1)" font-family='"Liberation Sans", sans-serif' font-size="10.2" fill="#444" text-anchor="start" font-weight="normal">Additive amount of P<tspan font-weight="bold" fill="#111">s</tspan> (g)</text>
<text transform="translate(10.2,354.5) rotate(-90)" font-family='"Liberation Sans", sans-serif' font-size="9.6" fill="#444" text-anchor="middle">compressive strength (MPa)</text>
<line x1="384.46" y1="437.06" x2="598.14" y2="437.06" stroke="#e6e6e6" stroke-width="0.9"/>
<line x1="399.72" y1="463.50" x2="506.56" y2="278.45" stroke="#e6e6e6" stroke-width="0.9"/>
<line x1="399.72" y1="463.50" x2="384.46" y2="437.06" stroke="#e6e6e6" stroke-width="0.9"/>
<line x1="399.72" y1="410.63" x2="582.87" y2="410.63" stroke="#c8c8c8" stroke-width="0.9"/>
<line x1="430.25" y1="463.50" x2="521.83" y2="304.89" stroke="#c8c8c8" stroke-width="0.9"/>
<line x1="430.25" y1="463.50" x2="399.72" y2="410.63" stroke="#c8c8c8" stroke-width="0.9"/>
<line x1="414.99" y1="384.19" x2="567.61" y2="384.19" stroke="#e6e6e6" stroke-width="0.9"/>
<line x1="460.77" y1="463.50" x2="537.09" y2="331.32" stroke="#e6e6e6" stroke-width="0.9"/>
<line x1="460.77" y1="463.50" x2="414.99" y2="384.19" stroke="#e6e6e6" stroke-width="0.9"/>
<line x1="430.25" y1="357.76" x2="552.35" y2="357.76" stroke="#c8c8c8" stroke-width="0.9"/>
<line x1="491.30" y1="463.50" x2="552.35" y2="357.76" stroke="#c8c8c8" stroke-width="0.9"/>
<line x1="491.30" y1="463.50" x2="430.25" y2="357.76" stroke="#c8c8c8" stroke-width="0.9"/>
<line x1="445.51" y1="331.32" x2="537.09" y2="331.32" stroke="#e6e6e6" stroke-width="0.9"/>
<line x1="521.83" y1="463.50" x2="567.61" y2="384.19" stroke="#e6e6e6" stroke-width="0.9"/>
<line x1="521.83" y1="463.50" x2="445.51" y2="331.32" stroke="#e6e6e6" stroke-width="0.9"/>
<line x1="460.77" y1="304.89" x2="521.83" y2="304.89" stroke="#c8c8c8" stroke-width="0.9"/>
<line x1="552.35" y1="463.50" x2="582.87" y2="410.63" stroke="#c8c8c8" stroke-width="0.9"/>
<line x1="552.35" y1="463.50" x2="460.77" y2="304.89" stroke="#c8c8c8" stroke-width="0.9"/>
<line x1="476.04" y1="278.45" x2="506.56" y2="278.45" stroke="#e6e6e6" stroke-width="0.9"/>
<line x1="582.88" y1="463.50" x2="598.14" y2="437.06" stroke="#e6e6e6" stroke-width="0.9"/>
<line x1="582.88" y1="463.50" x2="476.04" y2="278.45" stroke="#e6e6e6" stroke-width="0.9"/>
<path d="M613.40 463.50L491.30 252.02L369.20 463.50" fill="none" stroke="#222" stroke-width="1.2" stroke-linejoin="miter"/>
<line x1="369.20" y1="463.50" x2="613.40" y2="463.50" stroke="#4a4a4a" stroke-width="1.7"/>
<line x1="491.30" y1="252.02" x2="489.30" y2="248.55" stroke="#222" stroke-width="1"/>
<line x1="491.30" y1="252.02" x2="496.50" y2="252.02" stroke="#222" stroke-width="1"/>
<line x1="369.20" y1="463.50" x2="367.20" y2="466.96" stroke="#222" stroke-width="1"/>
<line x1="476.04" y1="278.45" x2="474.94" y2="276.55" stroke="#222" stroke-width="1"/>
<line x1="506.56" y1="278.45" x2="509.42" y2="278.45" stroke="#222" stroke-width="1"/>
<line x1="399.72" y1="463.50" x2="398.62" y2="465.41" stroke="#222" stroke-width="1"/>
<line x1="460.77" y1="304.89" x2="458.77" y2="301.42" stroke="#222" stroke-width="1"/>
<line x1="521.82" y1="304.89" x2="527.02" y2="304.89" stroke="#222" stroke-width="1"/>
<line x1="430.25" y1="463.50" x2="428.25" y2="466.96" stroke="#222" stroke-width="1"/>
<line x1="445.51" y1="331.32" x2="444.41" y2="329.42" stroke="#222" stroke-width="1"/>
<line x1="537.09" y1="331.32" x2="539.95" y2="331.32" stroke="#222" stroke-width="1"/>
<line x1="460.77" y1="463.50" x2="459.67" y2="465.41" stroke="#222" stroke-width="1"/>
<line x1="430.25" y1="357.76" x2="428.25" y2="354.29" stroke="#222" stroke-width="1"/>
<line x1="552.35" y1="357.76" x2="557.55" y2="357.76" stroke="#222" stroke-width="1"/>
<line x1="491.30" y1="463.50" x2="489.30" y2="466.96" stroke="#222" stroke-width="1"/>
<line x1="414.99" y1="384.19" x2="413.89" y2="382.29" stroke="#222" stroke-width="1"/>
<line x1="567.61" y1="384.19" x2="570.47" y2="384.19" stroke="#222" stroke-width="1"/>
<line x1="521.83" y1="463.50" x2="520.73" y2="465.41" stroke="#222" stroke-width="1"/>
<line x1="399.72" y1="410.63" x2="397.72" y2="407.17" stroke="#222" stroke-width="1"/>
<line x1="582.88" y1="410.63" x2="588.08" y2="410.63" stroke="#222" stroke-width="1"/>
<line x1="552.35" y1="463.50" x2="550.35" y2="466.96" stroke="#222" stroke-width="1"/>
<line x1="384.46" y1="437.06" x2="383.36" y2="435.16" stroke="#222" stroke-width="1"/>
<line x1="598.14" y1="437.06" x2="601.00" y2="437.06" stroke="#222" stroke-width="1"/>
<line x1="582.88" y1="463.50" x2="581.77" y2="465.41" stroke="#222" stroke-width="1"/>
<line x1="369.20" y1="463.50" x2="367.20" y2="460.04" stroke="#222" stroke-width="1"/>
<line x1="613.40" y1="463.50" x2="618.60" y2="463.50" stroke="#222" stroke-width="1"/>
<line x1="613.40" y1="463.50" x2="611.40" y2="466.96" stroke="#222" stroke-width="1"/>
<text transform="translate(488.10,244.62) scale(1.0,1)" font-family='"Liberation Sans", sans-serif' font-size="10" fill="#222" text-anchor="end" font-weight="normal" stroke="#222" stroke-width="0.3">0.00</text>
<text transform="translate(499.30,256.12) scale(1.0,1)" font-family='"Liberation Sans", sans-serif' font-size="10" fill="#222" text-anchor="start" font-weight="normal" stroke="#222" stroke-width="0.3">1.00</text>
<text transform="translate(365.90,478.10) scale(1.0,1)" font-family='"Liberation Sans", sans-serif' font-size="10" fill="#222" text-anchor="middle" font-weight="normal" stroke="#222" stroke-width="0.3">0.00</text>
<text transform="translate(457.57,297.49) scale(1.0,1)" font-family='"Liberation Sans", sans-serif' font-size="10" fill="#222" text-anchor="end" font-weight="normal" stroke="#222" stroke-width="0.3">0.25</text>
<text transform="translate(529.82,308.99) scale(1.0,1)" font-family='"Liberation Sans", sans-serif' font-size="10" fill="#222" text-anchor="start" font-weight="normal" stroke="#222" stroke-width="0.3">0.75</text>
<text transform="translate(426.95,478.10) scale(1.0,1)" font-family='"Liberation Sans", sans-serif' font-size="10" fill="#222" text-anchor="middle" font-weight="normal" stroke="#222" stroke-width="0.3">0.25</text>
<text transform="translate(427.05,350.36) scale(1.0,1)" font-family='"Liberation Sans", sans-serif' font-size="10" fill="#222" text-anchor="end" font-weight="normal" stroke="#222" stroke-width="0.3">0.50</text>
<text transform="translate(560.35,361.86) scale(1.0,1)" font-family='"Liberation Sans", sans-serif' font-size="10" fill="#222" text-anchor="start" font-weight="normal" stroke="#222" stroke-width="0.3">0.50</text>
<text transform="translate(488.00,478.10) scale(1.0,1)" font-family='"Liberation Sans", sans-serif' font-size="10" fill="#222" text-anchor="middle" font-weight="normal" stroke="#222" stroke-width="0.3">0.50</text>
<text transform="translate(396.52,403.23) scale(1.0,1)" font-family='"Liberation Sans", sans-serif' font-size="10" fill="#222" text-anchor="end" font-weight="normal" stroke="#222" stroke-width="0.3">0.75</text>
<text transform="translate(590.88,414.73) scale(1.0,1)" font-family='"Liberation Sans", sans-serif' font-size="10" fill="#222" text-anchor="start" font-weight="normal" stroke="#222" stroke-width="0.3">0.25</text>
<text transform="translate(549.05,478.10) scale(1.0,1)" font-family='"Liberation Sans", sans-serif' font-size="10" fill="#222" text-anchor="middle" font-weight="normal" stroke="#222" stroke-width="0.3">0.75</text>
<text transform="translate(366.00,456.10) scale(1.0,1)" font-family='"Liberation Sans", sans-serif' font-size="10" fill="#222" text-anchor="end" font-weight="normal" stroke="#222" stroke-width="0.3">1.00</text>
<text transform="translate(621.40,467.60) scale(1.0,1)" font-family='"Liberation Sans", sans-serif' font-size="10" fill="#222" text-anchor="start" font-weight="normal" stroke="#222" stroke-width="0.3">0.00</text>
<text transform="translate(610.10,478.10) scale(1.0,1)" font-family='"Liberation Sans", sans-serif' font-size="10" fill="#222" text-anchor="middle" font-weight="normal" stroke="#222" stroke-width="0.3">1.00</text>
<rect x="455.50" y="350.10" width="4.2" height="4.2" fill="#000"/>
<rect x="451.40" y="359.00" width="4.2" height="4.2" fill="#000"/>
<rect x="453.80" y="361.40" width="4.2" height="4.2" fill="#000"/>
<rect x="452.50" y="365.00" width="4.2" height="4.2" fill="#000"/>
<rect x="451.00" y="370.70" width="4.2" height="4.2" fill="#000"/>
<rect x="463.80" y="362.30" width="4.2" height="4.2" fill="#000"/>
<rect x="468.10" y="365.00" width="4.2" height="4.2" fill="#000"/>
<rect x="472.60" y="365.90" width="4.2" height="4.2" fill="#000"/>
<rect x="486.10" y="363.00" width="4.2" height="4.2" fill="#000"/>
<rect x="477.30" y="373.70" width="4.2" height="4.2" fill="#000"/>
<rect x="479.10" y="375.40" width="4.2" height="4.2" fill="#000"/>
<rect x="469.70" y="375.50" width="4.2" height="4.2" fill="#000"/>
<rect x="460.60" y="376.70" width="4.2" height="4.2" fill="#000"/>
<rect x="463.40" y="378.50" width="4.2" height="4.2" fill="#000"/>
<rect x="489.50" y="377.60" width="4.2" height="4.2" fill="#000"/>
<rect x="442.30" y="381.50" width="4.2" height="4.2" fill="#000"/>
<rect x="469.60" y="381.40" width="4.2" height="4.2" fill="#000"/>
<rect x="468.40" y="383.90" width="4.2" height="4.2" fill="#000"/>
<rect x="459.80" y="383.90" width="4.2" height="4.2" fill="#000"/>
<rect x="458.50" y="387.40" width="4.2" height="4.2" fill="#000"/>
<rect x="454.00" y="388.90" width="4.2" height="4.2" fill="#000"/>
<rect x="490.20" y="387.40" width="4.2" height="4.2" fill="#000"/>
<rect x="472.00" y="391.90" width="4.2" height="4.2" fill="#000"/>
<rect x="464.80" y="395.20" width="4.2" height="4.2" fill="#000"/>
<rect x="466.90" y="394.30" width="4.2" height="4.2" fill="#000"/>
<rect x="470.20" y="398.70" width="4.2" height="4.2" fill="#000"/>
<rect x="415.20" y="391.50" width="4.2" height="4.2" fill="#000"/>
<rect x="458.90" y="415.40" width="4.2" height="4.2" fill="#000"/>
<rect x="524.70" y="332.40" width="4.2" height="4.2" fill="#000"/>
<rect x="518.30" y="359.10" width="4.2" height="4.2" fill="#000"/>
<rect x="519.10" y="368.00" width="4.2" height="4.2" fill="#000"/>
<rect x="527.30" y="365.60" width="4.2" height="4.2" fill="#000"/>
<rect x="512.40" y="373.20" width="4.2" height="4.2" fill="#000"/>
<rect x="514.20" y="385.20" width="4.2" height="4.2" fill="#000"/>
<rect x="521.30" y="382.60" width="4.2" height="4.2" fill="#000"/>
<rect x="523.30" y="386.50" width="4.2" height="4.2" fill="#000"/>
<rect x="532.40" y="413.40" width="4.2" height="4.2" fill="#000"/>
<line x1="420.5" y1="407.9" x2="417.8" y2="397.0" stroke="#62bd62" stroke-width="0.8"/>
<path d="M417.8 397.0L419.40 398.92L417.29 399.45Z" fill="#62bd62"/>
<text transform="translate(422.10,416.90) scale(1.0,1)" font-family='"Liberation Sans", sans-serif' font-size="9.2" fill="#62bd62" text-anchor="middle" font-weight="normal">19</text>
<line x1="463.3" y1="432.5" x2="461.4" y2="420.8" stroke="#62bd62" stroke-width="0.8"/>
<path d="M461.4 420.8L462.83 422.85L460.69 423.20Z" fill="#62bd62"/>
<text transform="translate(463.90,443.00) scale(1.0,1)" font-family='"Liberation Sans", sans-serif' font-size="9.2" fill="#62bd62" text-anchor="middle" font-weight="normal">36</text>
<line x1="544.5" y1="428.5" x2="536.6" y2="418.5" stroke="#62bd62" stroke-width="0.8"/>
<path d="M536.6 418.5L538.85 419.59L537.14 420.94Z" fill="#62bd62"/>
<text transform="translate(546.80,439.20) scale(1.0,1)" font-family='"Liberation Sans", sans-serif' font-size="9.2" fill="#62bd62" text-anchor="middle" font-weight="normal">8</text>
<text transform="translate(396.60,275.30) scale(1.0,1)" font-family='"Liberation Serif", serif' font-size="14.5" fill="#111" text-anchor="start" font-weight="bold">(d)</text>
<text transform="translate(492.90,497.40) scale(1.0,1)" font-family='"Liberation Serif", serif' font-size="13" fill="#111" text-anchor="middle" font-weight="bold">bulk density</text>
<text transform="translate(399.5,344.4) rotate(-60)" font-family='"Liberation Serif", serif' font-size="13.5" fill="#111" stroke="#111" stroke-width="0.3" text-anchor="middle">compressive strength</text>
<text transform="translate(585.5,349.1) rotate(60)" font-family='"Liberation Serif", serif' font-size="13.9" fill="#111" stroke="#111" stroke-width="0.3" text-anchor="middle">apparent density</text>
<line x1="326.5" y1="501.2" x2="442" y2="501.2" stroke="#ececec" stroke-width="1.6"/><line x1="541" y1="501.2" x2="656" y2="501.2" stroke="#ececec" stroke-width="1.6"/>
</svg></body></html>
